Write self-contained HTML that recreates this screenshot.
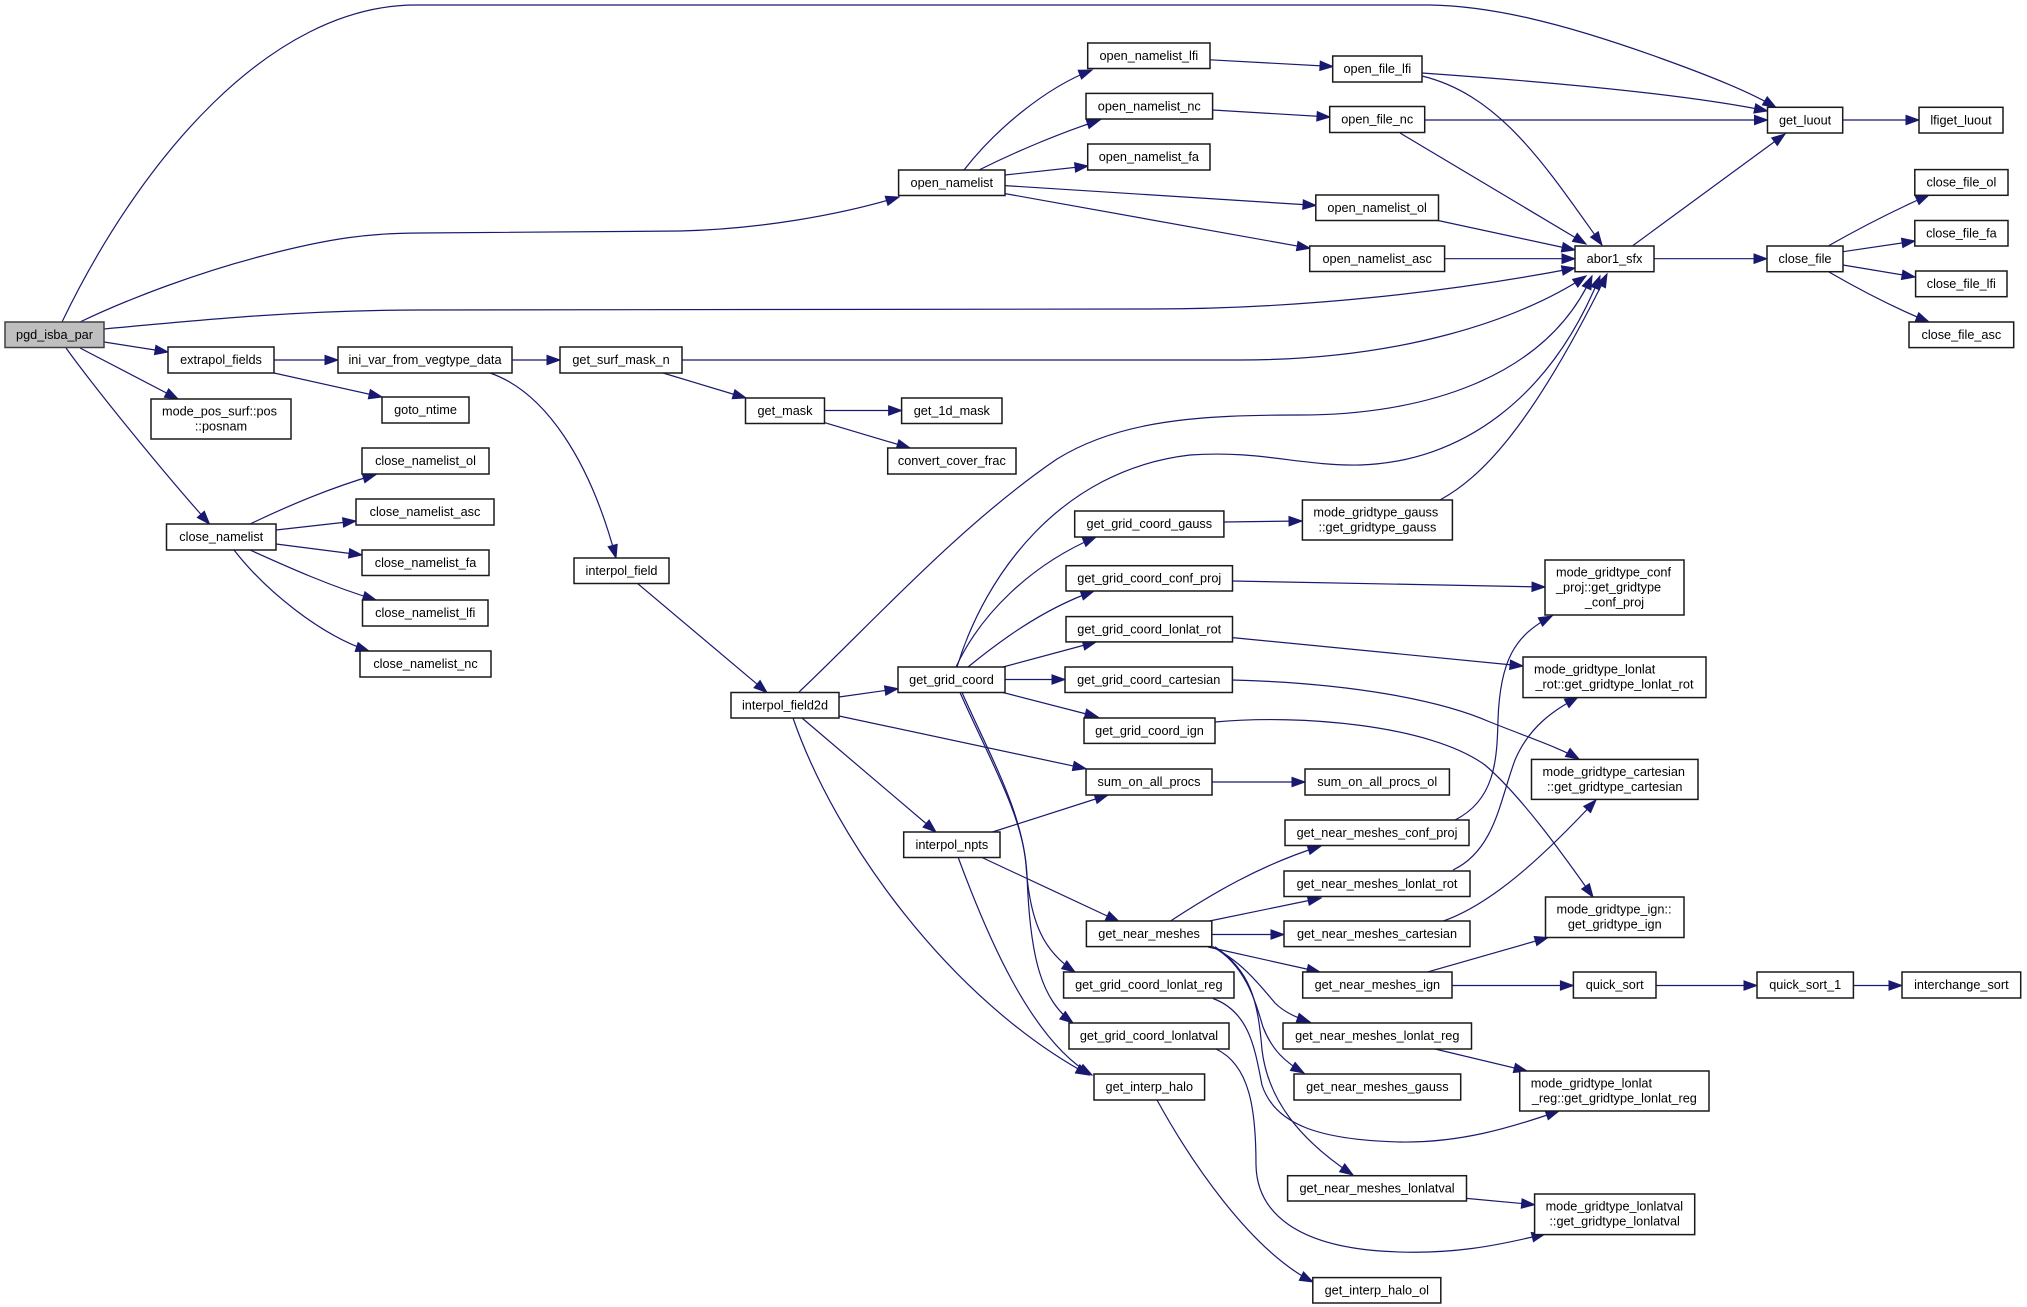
<!DOCTYPE html>
<html>
<head>
<meta charset="utf-8">
<style>
html,body{margin:0;padding:0;background:#fff;}
svg{display:block;}
text{font-family:"Liberation Sans",Arial,sans-serif;font-size:12.7px;fill:#000;}
.n{fill:#fff;stroke:#1a1a1a;stroke-width:1.5;}
.c{text-anchor:middle;}
.e{fill:none;stroke:#191970;stroke-width:1.2;marker-end:url(#a);}
</style>
</head>
<body>
<svg width="2027" height="1307" viewBox="0 0 2027 1307" xmlns="http://www.w3.org/2000/svg">
<defs>
<marker id="a" markerUnits="userSpaceOnUse" markerWidth="16" markerHeight="12" refX="13" refY="4.7" orient="auto" overflow="visible">
<path d="M0,0L13,4.7L0,9.4z" fill="#191970" stroke="#191970" stroke-width="1"/>
</marker>
</defs>
<rect x="0" y="0" width="2027" height="1307" fill="#fff"/>

<!-- edges -->
<path class="e" d="M62,322 C140,160 270,5 416,5 L1430,5 C1490,6 1560,22 1660,58 C1710,76 1750,92 1776,107.5"/>
<path class="e" d="M80,322 C130,298 200,272 262,256 C330,238 370,233 420,233 L680,231 C760,229 840,215 899,197"/>
<path class="e" d="M104,329 C200,320 300,310 420,310 L1150,309 C1300,309 1450,292 1575,268"/>
<path class="e" d="M104,342 L168,352"/>
<path class="e" d="M80,348 L178,399"/>
<path class="e" d="M66,348 C100,395 170,480 209.5,524"/>
<path class="e" d="M274,360 L338,360"/>
<path class="e" d="M274,373 L382,397"/>
<path class="e" d="M512,360 L560,360"/>
<path class="e" d="M490,373 C545,392 590,460 616,558"/>
<path class="e" d="M682,360 L1240,360 C1400,360 1520,320 1586,276"/>
<path class="e" d="M799,692 C870,625 960,525 1057,459 C1120,420 1200,415 1300,415 C1420,415 1545,380 1592,276"/>
<path class="e" d="M957,667 C985,575 1060,470 1190,455 C1260,450 1300,466 1360,465 C1460,462 1550,400 1600,276"/>
<path class="e" d="M1440,500 C1480,478 1530,430 1607,274"/>
<path class="e" d="M1422,76 C1500,95 1545,165 1602,245"/>
<path class="e" d="M1400,133 L1586,244"/>
<path class="e" d="M1438,220.5 L1575,250"/>
<path class="e" d="M1444.6,258.7 L1575,258.7"/>
<path class="e" d="M1633,245.5 L1785,134"/>
<path class="e" d="M1654,258.7 L1767,258.7"/>
<path class="e" d="M1829,245.5 C1860,228 1895,210 1929,195"/>
<path class="e" d="M1843,251.7 L1915,241"/>
<path class="e" d="M1843,265 L1915,277"/>
<path class="e" d="M1829,272 C1860,290 1895,308 1929,322"/>
<path class="e" d="M1842.7,120 L1919,120"/>
<path class="e" d="M1422,73 C1550,82 1690,95 1767.5,111"/>
<path class="e" d="M1424.7,120 L1767.5,120"/>
<path class="e" d="M964,170 C995,130 1045,88 1092,70"/>
<path class="e" d="M979,170 C1015,152 1060,133 1100,120"/>
<path class="e" d="M1005,175 L1088,166"/>
<path class="e" d="M1005,185.6 L1316,205.4"/>
<path class="e" d="M1005,193.6 L1310,248.3"/>
<path class="e" d="M1210,59.8 L1333,66.5"/>
<path class="e" d="M1212.6,110 L1330,117"/>
<path class="e" d="M663,373 L746,398"/>
<path class="e" d="M824.4,410.5 L901.6,410.5"/>
<path class="e" d="M824.4,422.6 L910,448"/>
<path class="e" d="M250,524 C290,505 330,488 376,474.5"/>
<path class="e" d="M276,530 L356,521"/>
<path class="e" d="M276,544 L362,555"/>
<path class="e" d="M250,550 C290,568 330,586 376,600"/>
<path class="e" d="M234,550 C265,590 320,635 369,651"/>
<path class="e" d="M637.5,583.4 L767,692.5"/>
<path class="e" d="M839,697 L898,688.7"/>
<path class="e" d="M839,716 L1086,768.7"/>
<path class="e" d="M802,718 L936,832"/>
<path class="e" d="M793,718 C835,840 950,1000 1089,1075"/>
<path class="e" d="M992.5,832 L1108,795"/>
<path class="e" d="M982,857.5 L1119,921.5"/>
<path class="e" d="M958,857 C985,930 1030,1040 1092,1075"/>
<path class="e" d="M956,667 C980,615 1030,565 1096,537"/>
<path class="e" d="M968,667 C995,645 1040,610 1094,591"/>
<path class="e" d="M1003,667 L1096,642"/>
<path class="e" d="M1005,679.5 L1065,679.5"/>
<path class="e" d="M1003,692.5 L1098,717"/>
<path class="e" d="M960,692.5 C990,760 1022,815 1026,865 C1030,925 1045,952 1075,972"/>
<path class="e" d="M962,692.5 C992,760 1024,815 1027,875 C1030,960 1042,1000 1073,1023"/>
<path class="e" d="M1224,522 L1302,521"/>
<path class="e" d="M1232.5,581 L1545,587"/>
<path class="e" d="M1232.5,637.6 L1523,666"/>
<path class="e" d="M1232,680 C1350,683 1440,700 1490,722 C1530,738 1560,748 1579,759"/>
<path class="e" d="M1215,722 C1300,714 1430,725 1485,765 C1520,795 1560,850 1593,897"/>
<path class="e" d="M1212,782 L1305,782"/>
<path class="e" d="M1455,820 C1495,800 1497,760 1498,720 C1500,660 1515,635 1552,616"/>
<path class="e" d="M1453,870 C1495,850 1500,800 1515,760 C1530,725 1555,710 1578,697"/>
<path class="e" d="M1442,921.5 C1490,905 1540,860 1596,800"/>
<path class="e" d="M1426,972.4 L1548,937.5"/>
<path class="e" d="M1452,985.5 L1573.4,985.5"/>
<path class="e" d="M1656,985.5 L1757,985.5"/>
<path class="e" d="M1853.4,985.5 L1902,985.5"/>
<path class="e" d="M1435,1049 L1527,1071"/>
<path class="e" d="M1466.5,1198.4 L1534.6,1204.7"/>
<path class="e" d="M1213,998.5 C1250,1012 1255,1050 1262,1085 C1275,1125 1320,1140 1400,1142 C1460,1143 1510,1128 1559,1111"/>
<path class="e" d="M1216,1049 C1250,1065 1256,1110 1256,1165 C1257,1215 1300,1245 1380,1251 C1450,1256 1500,1245 1545,1234"/>
<path class="e" d="M1157,1100 C1190,1160 1250,1250 1313,1282"/>
<path class="e" d="M1169,922 C1210,895 1260,865 1321,846"/>
<path class="e" d="M1207,921.5 L1321,898"/>
<path class="e" d="M1212,934.5 L1284,934.5"/>
<path class="e" d="M1208,947 L1320,972"/>
<path class="e" d="M1211.7,946.7 C1240,960 1260,985 1275,1003 C1285,1013 1298,1018 1310,1022"/>
<path class="e" d="M1213,946.7 C1245,965 1255,1000 1263,1027 C1272,1050 1285,1062 1304,1073"/>
<path class="e" d="M1215,946.7 C1250,970 1258,1000 1262,1050 C1268,1100 1300,1140 1353,1175"/>

<!-- nodes -->
<rect x="5" y="322" width="99" height="25.5" fill="#bfbfbf" stroke="#404040" stroke-width="1.5"/>
<text class="c" x="54.5" y="339">pgd_isba_par</text>

<rect class="n" x="168" y="347" width="106" height="26"/><text class="c" x="221" y="364">extrapol_fields</text>
<rect class="n" x="151" y="399" width="140" height="40"/><text x="162" y="415.5">mode_pos_surf::pos</text><text class="c" x="221" y="430.5">::posnam</text>
<rect class="n" x="166.5" y="524" width="109.5" height="26"/><text class="c" x="221.25" y="541">close_namelist</text>
<rect class="n" x="338" y="347" width="174" height="26"/><text class="c" x="425" y="364">ini_var_from_vegtype_data</text>
<rect class="n" x="382" y="397" width="87" height="26"/><text class="c" x="425.5" y="414">goto_ntime</text>
<rect class="n" x="362" y="448" width="127" height="26"/><text class="c" x="425.5" y="465">close_namelist_ol</text>
<rect class="n" x="356" y="499" width="138" height="26"/><text class="c" x="425" y="516">close_namelist_asc</text>
<rect class="n" x="362" y="550" width="127" height="25.5"/><text class="c" x="425.5" y="567">close_namelist_fa</text>
<rect class="n" x="362.5" y="600" width="125.5" height="26"/><text class="c" x="425.25" y="617">close_namelist_lfi</text>
<rect class="n" x="360" y="651" width="131" height="26"/><text class="c" x="425.5" y="668">close_namelist_nc</text>
<rect class="n" x="560" y="347" width="122" height="26"/><text class="c" x="621" y="364">get_surf_mask_n</text>
<rect class="n" x="574" y="558" width="95" height="25.5"/><text class="c" x="621.5" y="575">interpol_field</text>
<rect class="n" x="745.5" y="398" width="79" height="25.5"/><text class="c" x="785" y="415">get_mask</text>
<rect class="n" x="901.6" y="398" width="100.4" height="25.5"/><text class="c" x="951.8" y="415">get_1d_mask</text>
<rect class="n" x="887.7" y="448" width="128.3" height="26"/><text class="c" x="951.85" y="465">convert_cover_frac</text>
<rect class="n" x="731" y="692.5" width="108" height="25.5"/><text class="c" x="785" y="709.5">interpol_field2d</text>
<rect class="n" x="898.6" y="170" width="106.4" height="25.5"/><text class="c" x="951.8" y="187">open_namelist</text>
<rect class="n" x="1087.7" y="43" width="122.3" height="25.5"/><text class="c" x="1148.85" y="60">open_namelist_lfi</text>
<rect class="n" x="1086" y="93.4" width="126.6" height="25.6"/><text class="c" x="1149.3" y="110.4">open_namelist_nc</text>
<rect class="n" x="1087.7" y="144" width="122.3" height="26"/><text class="c" x="1148.85" y="161">open_namelist_fa</text>
<rect class="n" x="1315.8" y="195" width="122.7" height="25.5"/><text class="c" x="1377.15" y="212">open_namelist_ol</text>
<rect class="n" x="1309.7" y="246" width="134.9" height="25.5"/><text class="c" x="1377.15" y="263">open_namelist_asc</text>
<rect class="n" x="1332.7" y="56" width="89.3" height="26"/><text class="c" x="1377.35" y="73">open_file_lfi</text>
<rect class="n" x="1329.7" y="106.5" width="95" height="26"/><text class="c" x="1377.2" y="123.5">open_file_nc</text>
<rect class="n" x="1767.5" y="107.3" width="75.2" height="25.7"/><text class="c" x="1805.1" y="124.3">get_luout</text>
<rect class="n" x="1919" y="107.3" width="84" height="25.7"/><text class="c" x="1961" y="124.3">lfiget_luout</text>
<rect class="n" x="1575" y="246" width="79" height="25.7"/><text class="c" x="1614.5" y="263">abor1_sfx</text>
<rect class="n" x="1767" y="246" width="76" height="25.7"/><text class="c" x="1805" y="263">close_file</text>
<rect class="n" x="1914.8" y="169.6" width="93.2" height="25.7"/><text class="c" x="1961.4" y="186.6">close_file_ol</text>
<rect class="n" x="1914.8" y="220.5" width="93.2" height="25.5"/><text class="c" x="1961.4" y="237.5">close_file_fa</text>
<rect class="n" x="1915.6" y="271" width="91.4" height="25.7"/><text class="c" x="1961.3" y="288">close_file_lfi</text>
<rect class="n" x="1909" y="322" width="104.7" height="25.6"/><text class="c" x="1961.35" y="339">close_file_asc</text>
<rect class="n" x="1074.7" y="511" width="149.2" height="26"/><text class="c" x="1149.3" y="528">get_grid_coord_gauss</text>
<rect class="n" x="1302.4" y="500" width="150" height="40"/><text x="1313.4" y="516.5">mode_gridtype_gauss</text><text class="c" x="1377.4" y="531.5">::get_gridtype_gauss</text>
<rect class="n" x="1066" y="565.7" width="166.5" height="25.3"/><text class="c" x="1149.25" y="582.7">get_grid_coord_conf_proj</text>
<rect class="n" x="1545" y="560" width="139" height="55"/><text x="1556" y="576.5">mode_gridtype_conf</text><text x="1556" y="591.5">_proj::get_gridtype</text><text class="c" x="1614.5" y="606.5">_conf_proj</text>
<rect class="n" x="1066" y="616.6" width="166.5" height="25.3"/><text class="c" x="1149.25" y="633.6">get_grid_coord_lonlat_rot</text>
<rect class="n" x="1523" y="657" width="183" height="40.6"/><text x="1534" y="673.5">mode_gridtype_lonlat</text><text class="c" x="1614.5" y="688.5">_rot::get_gridtype_lonlat_rot</text>
<rect class="n" x="898" y="667" width="107" height="25.5"/><text class="c" x="951.5" y="684">get_grid_coord</text>
<rect class="n" x="1065" y="667" width="167.4" height="25.5"/><text class="c" x="1148.7" y="684">get_grid_coord_cartesian</text>
<rect class="n" x="1084" y="718" width="131" height="25.4"/><text class="c" x="1149.5" y="735">get_grid_coord_ign</text>
<rect class="n" x="1531.5" y="759.4" width="166.5" height="40"/><text x="1542.5" y="775.9">mode_gridtype_cartesian</text><text class="c" x="1614.75" y="790.9">::get_gridtype_cartesian</text>
<rect class="n" x="1086" y="769" width="126" height="26"/><text class="c" x="1149" y="786">sum_on_all_procs</text>
<rect class="n" x="1305" y="769" width="144.4" height="26"/><text class="c" x="1377.2" y="786">sum_on_all_procs_ol</text>
<rect class="n" x="1285" y="820" width="184" height="25.5"/><text class="c" x="1377" y="837">get_near_meshes_conf_proj</text>
<rect class="n" x="903.7" y="832" width="96.3" height="25.5"/><text class="c" x="951.85" y="849">interpol_npts</text>
<rect class="n" x="1284" y="871" width="186" height="25.5"/><text class="c" x="1377" y="888">get_near_meshes_lonlat_rot</text>
<rect class="n" x="1545.5" y="897" width="138.5" height="40.5"/><text x="1556.5" y="913.5">mode_gridtype_ign::</text><text class="c" x="1614.75" y="928.5">get_gridtype_ign</text>
<rect class="n" x="1086.4" y="921" width="125.4" height="25.6"/><text class="c" x="1149.1" y="938">get_near_meshes</text>
<rect class="n" x="1284" y="921" width="186" height="25.6"/><text class="c" x="1377" y="938">get_near_meshes_cartesian</text>
<rect class="n" x="1063.6" y="972" width="170.4" height="26"/><text class="c" x="1148.8" y="989">get_grid_coord_lonlat_reg</text>
<rect class="n" x="1302.7" y="972" width="149.3" height="26"/><text class="c" x="1377.35" y="989">get_near_meshes_ign</text>
<rect class="n" x="1573.4" y="972" width="82.6" height="26"/><text class="c" x="1614.7" y="989">quick_sort</text>
<rect class="n" x="1757" y="972" width="96.4" height="26"/><text class="c" x="1805.2" y="989">quick_sort_1</text>
<rect class="n" x="1902" y="972" width="118.7" height="26"/><text class="c" x="1961.35" y="989">interchange_sort</text>
<rect class="n" x="1069" y="1023" width="160" height="26"/><text class="c" x="1149" y="1040">get_grid_coord_lonlatval</text>
<rect class="n" x="1283" y="1023" width="188.5" height="26"/><text class="c" x="1377.25" y="1040">get_near_meshes_lonlat_reg</text>
<rect class="n" x="1094" y="1074" width="110.6" height="26"/><text class="c" x="1149.3" y="1091">get_interp_halo</text>
<rect class="n" x="1294" y="1074" width="166.7" height="26"/><text class="c" x="1377.35" y="1091">get_near_meshes_gauss</text>
<rect class="n" x="1519.7" y="1071" width="189.3" height="40"/><text x="1530.7" y="1087.5">mode_gridtype_lonlat</text><text class="c" x="1614.35" y="1102.5">_reg::get_gridtype_lonlat_reg</text>
<rect class="n" x="1287.6" y="1175.7" width="178.9" height="25.3"/><text class="c" x="1377.05" y="1192.5">get_near_meshes_lonlatval</text>
<rect class="n" x="1534.6" y="1194" width="160.1" height="40.6"/><text x="1545.6" y="1210.5">mode_gridtype_lonlatval</text><text class="c" x="1614.65" y="1225.5">::get_gridtype_lonlatval</text>
<rect class="n" x="1312.8" y="1277.6" width="128" height="25.4"/><text class="c" x="1376.8" y="1294.5">get_interp_halo_ol</text>
</svg>
</body>
</html>
